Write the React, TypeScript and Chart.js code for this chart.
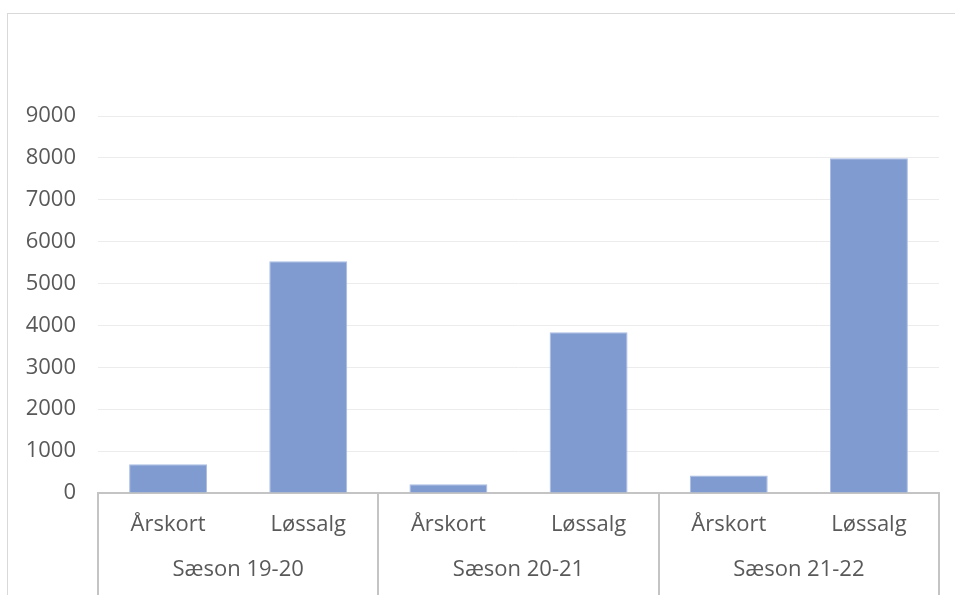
import React, { useEffect, useRef } from "react";
import { Chart, registerables } from "chart.js";

Chart.register(...registerables);

const categories = ["Årskort", "Løssalg", "Årskort", "Løssalg", "Årskort", "Løssalg"];
const groups = ["Sæson 19-20", "Sæson 20-21", "Sæson 21-22"];
const values = [685, 5530, 210, 3840, 420, 7990];
const yMax = 9000;
const yStep = 1000;

const FONT = "'Open Sans', 'Noto Sans', sans-serif";
const TEXT = "#595959";
const AXIS = "#c4c4c4";

export default function App() {
  const ref = useRef<HTMLCanvasElement | null>(null);

  useEffect(() => {
    if (!ref.current) return;
    const chart = new Chart(ref.current, {
      type: "bar",
      data: {
        labels: categories,
        datasets: [
          {
            data: values,
            backgroundColor: "#7f9bd0",
            borderColor: "#a9bde2",
            borderWidth: 1,
            categoryPercentage: 1,
            barPercentage: 0.556,
            xAxisID: "x",
          },
        ],
      },
      options: {
        animation: false,
        responsive: false,
        maintainAspectRatio: false,
        layout: { padding: { top: 116, right: 16, bottom: 12, left: 0 } },
        plugins: { legend: { display: false }, tooltip: { enabled: false } },
        scales: {
          y: {
            min: 0,
            max: yMax,
            ticks: {
              stepSize: yStep,
              padding: 22,
              color: TEXT,
              font: { family: FONT, size: 22 },
              callback: (v: any) => String(v),
            },
            grid: { color: "#ececec", lineWidth: 1, drawTicks: false },
            border: { display: false },
            afterFit: (s: any) => {
              s.width = 98;
            },
          },
          x: {
            type: "category",
            position: "bottom",
            offset: true,
            weight: 0,
            ticks: {
              color: TEXT,
              font: { family: FONT, size: 22 },
              padding: -91.2,
              maxRotation: 0,
              autoSkip: false,
            },
            grid: {
              offset: true,
              drawOnChartArea: false,
              drawTicks: true,
              tickLength: 110,
              lineWidth: 2,
              color: (ctx: any) =>
                ctx.index === undefined || ctx.index % 2 === 0 ? AXIS : "rgba(0,0,0,0)",
            },
            border: { display: true, color: AXIS, width: 2 },
            afterFit: (s: any) => {
              s.height = 45;
            },
          },
          x2: {
            type: "category",
            position: "bottom",
            labels: groups,
            offset: true,
            weight: 1,
            ticks: {
              color: TEXT,
              font: { family: FONT, size: 22 },
              padding: 18.6,
              maxRotation: 0,
              autoSkip: false,
            },
            grid: { display: false, drawTicks: false },
            border: { display: false },
            afterFit: (s: any) => {
              s.height = 45;
            },
          },
        },
      },
    });
    return () => chart.destroy();
  }, []);

  return (
    <div
      style={{
        position: "absolute",
        left: 0,
        top: 0,
        width: 955,
        height: 595,
        overflow: "hidden",
        background: "#ffffff",
      }}
    >
      <div
        style={{
          position: "absolute",
          left: 7,
          top: 13,
          width: 1000,
          height: 1000,
          border: "1px solid #d9d9d9",
          boxSizing: "border-box",
        }}
      />
      <canvas
        ref={ref}
        width={955}
        height={595}
        style={{ position: "absolute", left: 0, top: 0, width: 955, height: 595 }}
      />
    </div>
  );
}
